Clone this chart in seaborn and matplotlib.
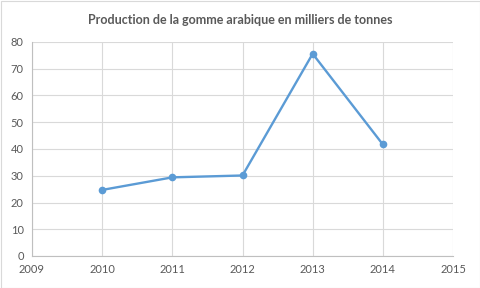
import matplotlib
matplotlib.use("Agg")
import matplotlib.pyplot as plt
import seaborn as sns
import pandas as pd

years = [2010, 2011, 2012, 2013, 2014]
production = [24.7, 29.4, 30.1, 75.6, 41.7]
title = "Production de la gomme arabique en milliers de tonnes"

df = pd.DataFrame({"annee": years, "production": production})

sns.set_style("white")
plt.rcParams['font.family'] = ['Lato', 'DejaVu Sans']

fig = plt.figure(figsize=(4.8, 2.88), dpi=100)
ax = fig.add_axes([32/480, 1-256/288, (453-32)/480, (256-42)/288])

sns.lineplot(data=df, x="annee", y="production", ax=ax, color="#5b9bd5",
             marker="o", markersize=5.5, markeredgewidth=0, linewidth=1.7)

ax.set_xlim(2009, 2015)
ax.set_ylim(0, 80)
ax.set_xticks(range(2009, 2016))
ax.set_yticks(range(0, 81, 10))
ax.grid(True, color="#d9d9d9", linewidth=0.8)
ax.set_axisbelow(True)
for s in ["top", "right"]:
    ax.spines[s].set_visible(False)
for s in ["left", "bottom"]:
    ax.spines[s].set_color("#bfbfbf")
    ax.spines[s].set_linewidth(0.8)
ax.tick_params(axis="both", length=0, labelsize=8, colors="#595959", pad=6)
ax.set_xlabel("")
ax.set_ylabel("")

fig.text(0.5, 1-20/288, title, ha="center", va="center", fontsize=9,
         fontweight="bold", color="#595959")

fig.patches.append(plt.Rectangle((0.5/480, 0.5/288), 1-1/480, 1-1/288,
                                 transform=fig.transFigure, fill=False,
                                 edgecolor="#d9d9d9", linewidth=0.8))

fig.savefig("out.png", dpi=100)
